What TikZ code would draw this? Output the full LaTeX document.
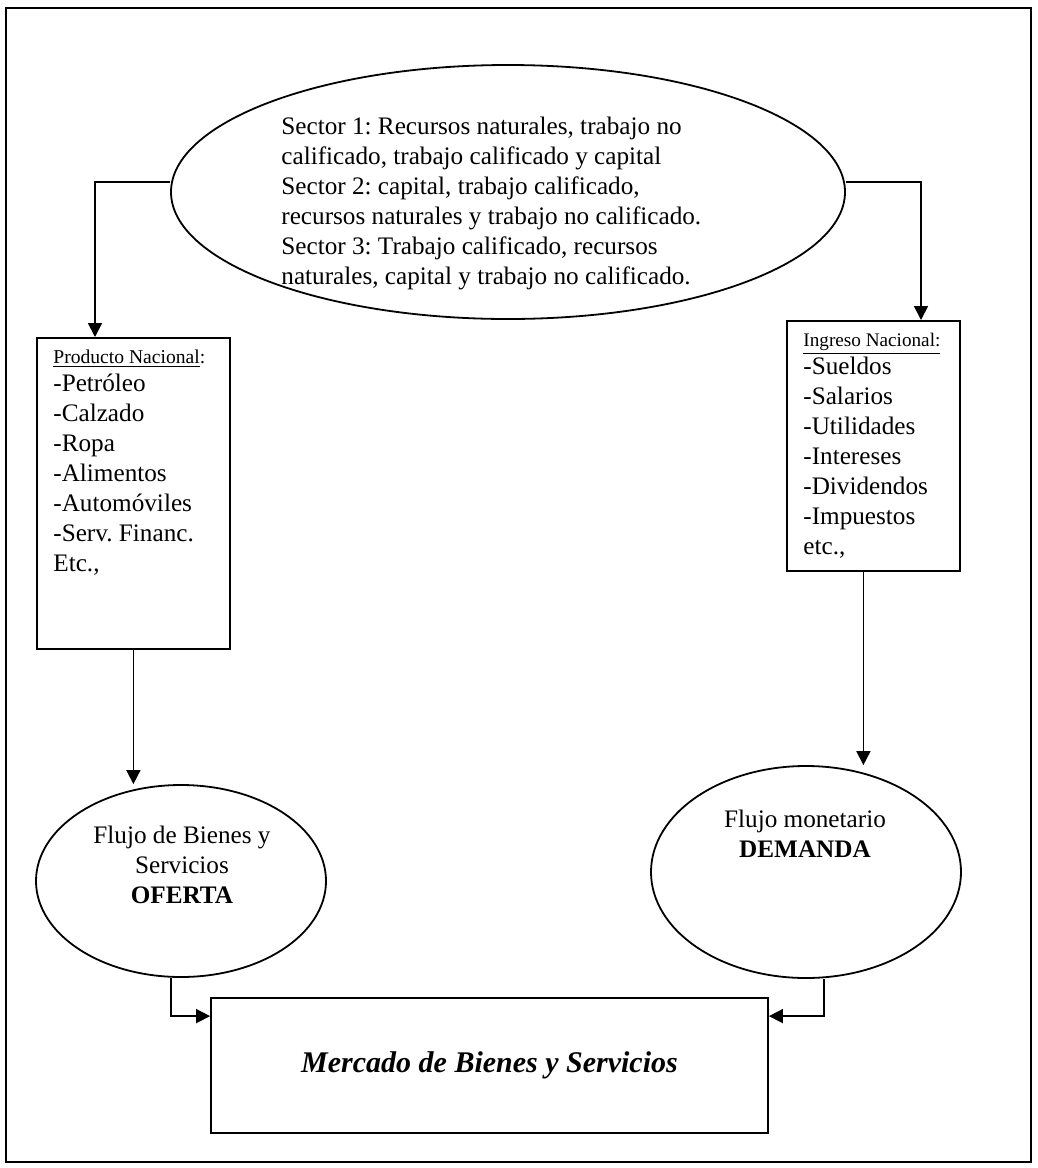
\documentclass[tikz,border=0pt]{standalone}
\usepackage{fontspec}
\setmainfont{Liberation Serif}
\usetikzlibrary{shapes.geometric}
\usetikzlibrary{arrows.meta}
\frenchspacing

\begin{document}
\begin{tikzpicture}[x=1pt,y=1pt]
\tikzset{flecha/.style={-{Triangle[length=7pt,width=7pt]}, line width=0.85pt},
  elipse/.style={draw, ellipse, line width=0.9pt, inner sep=0pt},
  caja/.style={draw, rectangle, line width=0.9pt, inner sep=0pt},
  texto/.style={inner sep=0pt, font=\fontsize{12.6}{15}\selectfont}
}
    % marco
    \useasboundingbox (0,0) rectangle (519,-584);
    \draw[line width=1pt] (3,-4) rectangle (515.5,-581);

    % sectores
    \node[elipse, minimum width=337pt, minimum height=127pt] (sector) at (254,-96) {};
    \node[texto, anchor=north west, align=left] (sectortxt) at (140.5,-58.2) {Sector 1: Recursos naturales, trabajo no\\
      calificado, trabajo calificado y capital\\
      Sector 2: capital, trabajo calificado,\\
      recursos naturales y trabajo no calificado.\\
      Sector 3: Trabajo calificado, recursos\\
      naturales, capital y trabajo no calificado.};

    % producto e ingreso
    \node[caja, minimum width=96.5pt, minimum height=155.5pt, anchor=north west] (prod) at (18,-168.5) {};
    \node[texto, anchor=north west, align=left] (prodtxt) at (26.5,-174.5) {{\fontsize{9.8}{15}\selectfont\underline{Producto Nacional}:}\\[-0.8pt]
      -Petróleo\\-Calzado\\-Ropa\\-Alimentos\\-Automóviles\\-Serv. Financ.\\Etc.,};
    \node[caja, minimum width=86.5pt, minimum height=125pt, anchor=north west] (ing) at (393,-160) {};
    \node[texto, anchor=north west, align=left] (ingtxt) at (401.5,-166.5) {{\fontsize{9.6}{15}\selectfont\underline{Ingreso Nacional:}}\\[-1.2pt]
      -Sueldos\\-Salarios\\-Utilidades\\-Intereses\\-Dividendos\\-Impuestos\\etc.,};

    % flujos
    \node[elipse, minimum width=145pt, minimum height=96pt] (oferta) at (90.5,-440.5) {};
    \node[texto, align=center] (ofertatxt) at (91,-432.5) {Flujo de Bienes y\\Servicios\\\textbf{OFERTA}};
    \node[elipse, minimum width=155pt, minimum height=106pt] (demanda) at (403,-436) {};
    \node[texto, align=center] (demandatxt) at (402.5,-417) {Flujo monetario\\\textbf{DEMANDA}};

    % mercado
    \node[caja, minimum width=278.5pt, minimum height=67.5pt] (mercado) at (244.75,-532.75) {\fontsize{15}{18}\selectfont\bfseries\itshape Mercado de Bienes y Servicios};

    % flechas
    \draw[flecha] ([yshift=5pt]sector.west) -| ([xshift=29.5pt]prod.north west);
    \draw[flecha] ([yshift=5pt]sector.east) -| ([xshift=67.5pt]ing.north west);
    \draw[flecha] (prod.south) -- (prod.south |- oferta.north);
    \draw[flecha] ([xshift=-5pt]ing.south) -- ([xshift=-5pt]ing.south |- demanda.north);
    \draw[flecha] ([xshift=-5pt]oferta.south) |- ([yshift=-9.5pt]mercado.north west);
    \draw[flecha] ([xshift=9pt]demanda.south) |- ([yshift=-9.5pt]mercado.north east);

\end{tikzpicture}
\end{document}
